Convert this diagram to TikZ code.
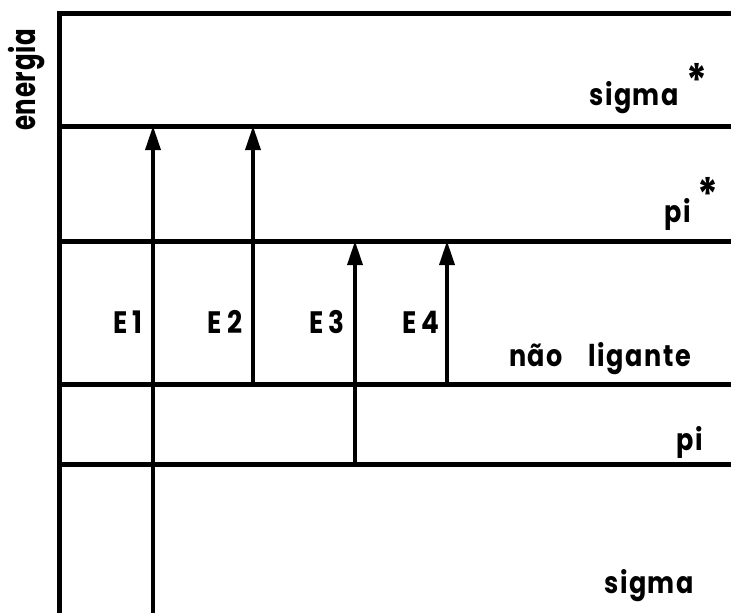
\documentclass[tikz,border=0pt]{standalone}
\usepackage{fontspec}
\setmainfont{Poppins}[FakeStretch=0.85,LetterSpace=5]
\newfontfamily\narrowfont{Poppins}[FakeStretch=0.72,LetterSpace=2]
\usetikzlibrary{arrows.meta}
\begin{document}
\begin{tikzpicture}[x=1pt,y=-1pt,
  frame/.style={line width=5pt},
  level/.style={line width=5pt},
  trans/.style={line width=3.5pt,-{Triangle[length=24pt,width=15pt]}},
  lbl/.style={inner sep=0pt,font=\fontsize{30}{36}\selectfont\bfseries},
  elbl/.style={inner sep=0pt,font=\fontsize{31}{36}\selectfont\bfseries\addfontfeature{LetterSpace=18}},
  star/.style={inner sep=0pt,font=\fontsize{46}{46}\selectfont\bfseries}]
\useasboundingbox (0,0) rectangle (731,613);
% frame
\coordinate (fb) at (59.5,613);
\coordinate (ftl) at (59.5,13);
\coordinate (ftr) at (731,13);
\draw[frame] (fb) -- (ftl) -- (ftr);
% levels
\foreach \n/\y in {ss/126,ps/241,nl/384,pp/464}{
  \coordinate (\n L) at (59.5,\y);
  \coordinate (\n R) at (731,\y);
  \draw[level] (\n L) -- (\n R);
}
% transitions
\coordinate (e1s) at (153,613);
\coordinate (e1e) at (153,126);
\coordinate (e2s) at (253,384);
\coordinate (e2e) at (253,126);
\coordinate (e3s) at (355,464);
\coordinate (e3e) at (355,241);
\coordinate (e4s) at (447,384);
\coordinate (e4e) at (447,241);
\draw[trans] (e1s) -- (e1e);
\draw[trans] (e2s) -- (e2e);
\draw[trans] (e3s) -- (e3e);
\draw[trans] (e4s) -- (e4e);
% labels
\node[elbl,anchor=base east] (lE1) at (143,333) {E1};
\node[elbl,anchor=base east] (lE2) at (243,333) {E2};
\node[elbl,anchor=base east] (lE3) at (345,333) {E3};
\node[elbl,anchor=base east] (lE4) at (440,333) {E4};
\node[lbl,anchor=base east] (lss) at (679,105) {sigma};
\node[star] (sss) at (697,80) {*};
\node[lbl,anchor=base east] (lps) at (691,222) {pi};
\node[star] (sps) at (708,194) {*};
\node[lbl,anchor=base east] (lnl) at (691,366) {não\hspace{26pt}ligante};
\node[lbl,anchor=base east] (lpp) at (703,450) {pi};
\node[lbl,anchor=base east] (lsg) at (694,593) {sigma};
\node[inner sep=0pt,anchor=base west,rotate=90,font=\fontsize{34}{40}\narrowfont\bfseries] (len) at (35,131) {energia};
\end{tikzpicture}
\end{document}
